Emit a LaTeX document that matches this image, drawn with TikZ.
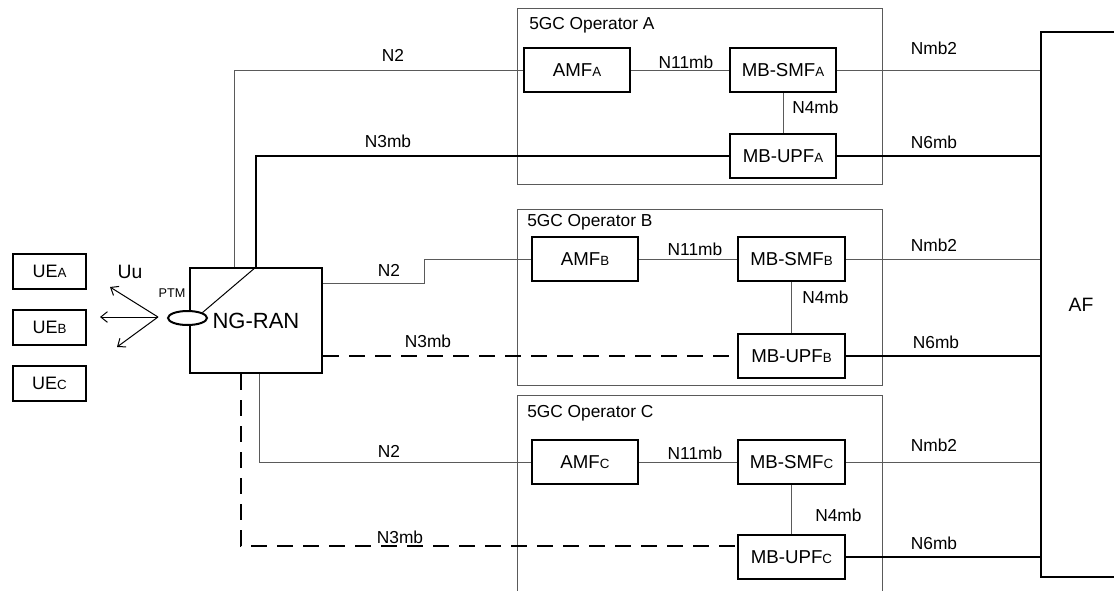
\documentclass[tikz,border=0pt]{standalone}
\usepackage{fontspec}
\setmainfont{Liberation Sans}
\usetikzlibrary{positioning,shapes.geometric,arrows.meta}
\definecolor{linegray}{RGB}{90,90,90}
\newcommand\opid[1]{{\fontsize{10}{11}\selectfont #1}}

\begin{document}
\begin{tikzpicture}[x=0.75pt,y=-0.75pt,
    font=\fontsize{13}{15}\selectfont,
    nf/.style={draw,line width=1.5pt,minimum width=80pt,minimum height=33pt,inner sep=0pt,
               font=\fontsize{14}{16}\selectfont},
    ue/.style={draw,line width=1.5pt,minimum width=54.75pt,minimum height=26.25pt,inner sep=0pt,
               font=\fontsize{13.5}{15}\selectfont},
    frame/.style={draw=linegray,line width=0.75pt},
    lbl/.style={inner sep=0pt},
    cp/.style={draw=linegray,line width=0.75pt},
    up/.style={line width=1.5pt},
    upd/.style={line width=1.5pt,dash pattern=on 12pt off 7.5pt},
    uu/.style={line width=0.75pt,-{Straight Barb[length=5pt,width=8pt]}}]
  \useasboundingbox (0,0) rectangle (1114,590);
  \clip (0,0) rectangle (1114,590);

  % UEs and RAN
  \node[ue] (uea) at (49.5,271) {UE\opid{A}};
  \node[ue] (ueb) at (49.5,327) {UE\opid{B}};
  \node[ue] (uec) at (49.5,383) {UE\opid{C}};
  \node[draw,line width=1.5pt,minimum width=99pt,minimum height=78.75pt,
        font=\fontsize{16.5}{19}\selectfont] (ngran) at (256,320.5) {NG-RAN};
  \node[ellipse,draw,fill=white,line width=1.5pt,minimum width=29.25pt,
        minimum height=10.5pt,inner sep=0pt] (ptm) at (187.5,318) {};
  \node[lbl,font=\fontsize{9.5}{11}\selectfont] (ptml) at (172,293) {PTM};
  \node[lbl,font=\fontsize{14.5}{17}\selectfont] (uul) at (130,272) {Uu};

  % operator frames
  \draw[frame] (517,8) rectangle (882,184);
  \draw[frame] (517,209) rectangle (882,385);
  \draw[frame] (517,395) rectangle (882,600);
  \node[lbl,anchor=west] (opa) at (529,25) {5GC Operator A};
  \node[lbl,anchor=west] (opb) at (527,222) {5GC Operator B};
  \node[lbl,anchor=west] (opc) at (527,413) {5GC Operator C};

  \node[nf] (amfa) at (577,70) {AMF\opid{A}};
  \node[nf] (smfa) at (783,70) {MB-SMF\opid{A}};
  \node[nf] (upfa) at (783,156) {MB-UPF\opid{A}};
  \node[nf] (amfb) at (585,259) {AMF\opid{B}};
  \node[nf] (smfb) at (791.5,259) {MB-SMF\opid{B}};
  \node[nf] (upfb) at (791.5,356) {MB-UPF\opid{B}};
  \node[nf] (amfc) at (585,462) {AMF\opid{C}};
  \node[nf] (smfc) at (791.5,462) {MB-SMF\opid{C}};
  \node[nf] (upfc) at (791.5,557) {MB-UPF\opid{C}};

  \node[draw,line width=1.5pt,minimum width=60pt,minimum height=408.75pt,
        font=\fontsize{14.5}{17}\selectfont] (af) at (1081,304.5) {AF};

  % bends
  \coordinate (n2a) at (234,70);
  \coordinate (n3a) at (256,156);
  \coordinate (n2b) at (424,283);
  \coordinate (n2c) at (259,462);
  \coordinate (n3c) at (241,546);
  \coordinate (uo) at (158,317);
  \coordinate (ua) at (110,287);
  \coordinate (ub) at (100,317);
  \coordinate (uc) at (117,347);

  % Uu
  \draw[uu] (uo) -- (ua);
  \draw[uu] (uo) -- (ub);
  \draw[uu] (uo) -- (uc);
  \draw[line width=0.75pt] (ptm.20) -- (ngran.north -| n3a);

  % RAN to core
  \draw[cp] (ngran.north -| n2a) |- (amfa);
  \draw[up] (ngran.north -| n3a) |- (upfa);
  \draw[cp] (ngran.east |- n2b) -- (n2b) |- (amfb);
  \draw[upd] (ngran.east |- upfb) -- (upfb);
  \draw[cp] (ngran.south -| n2c) |- (amfc);
  \draw[upd] (ngran.south -| n3c) |- (upfc.west |- n3c);

  % inside operators
  \draw[cp] (amfa) -- (smfa);
  \draw[cp] (smfa) -- (upfa);
  \draw[cp] (amfb) -- (smfb);
  \draw[cp] (smfb) -- (upfb);
  \draw[cp] (amfc) -- (smfc);
  \draw[cp] (smfc) -- (upfc);

  % to AF
  \draw[cp] (smfa) -- (smfa -| af.west);
  \draw[up] (upfa) -- (upfa -| af.west);
  \draw[cp] (smfb) -- (smfb -| af.west);
  \draw[up] (upfb) -- (upfb -| af.west);
  \draw[cp] (smfc) -- (smfc -| af.west);
  \draw[up] (upfc) -- (upfc -| af.west);

  % interface labels
  \node[lbl] (la1) at (393,55) {N2};
  \node[lbl] (la2) at (388,141) {N3mb};
  \node[lbl] (la3) at (686,62) {N11mb};
  \node[lbl,anchor=west] (la4) at (792,107) {N4mb};
  \node[lbl] (la5) at (934,48) {Nmb2};
  \node[lbl] (la6) at (934,142) {N6mb};
  \node[lbl] (lb1) at (389,270) {N2};
  \node[lbl] (lb2) at (428,341) {N3mb};
  \node[lbl] (lb3) at (695,249) {N11mb};
  \node[lbl,anchor=west] (lb4) at (802,297) {N4mb};
  \node[lbl] (lb5) at (934,245) {Nmb2};
  \node[lbl] (lb6) at (936,342) {N6mb};
  \node[lbl] (lc1) at (389,451) {N2};
  \node[lbl] (lc2) at (400,537) {N3mb};
  \node[lbl] (lc3) at (695,453) {N11mb};
  \node[lbl,anchor=west] (lc4) at (815,515) {N4mb};
  \node[lbl] (lc5) at (934,445) {Nmb2};
  \node[lbl] (lc6) at (934,543) {N6mb};
\end{tikzpicture}
\end{document}
